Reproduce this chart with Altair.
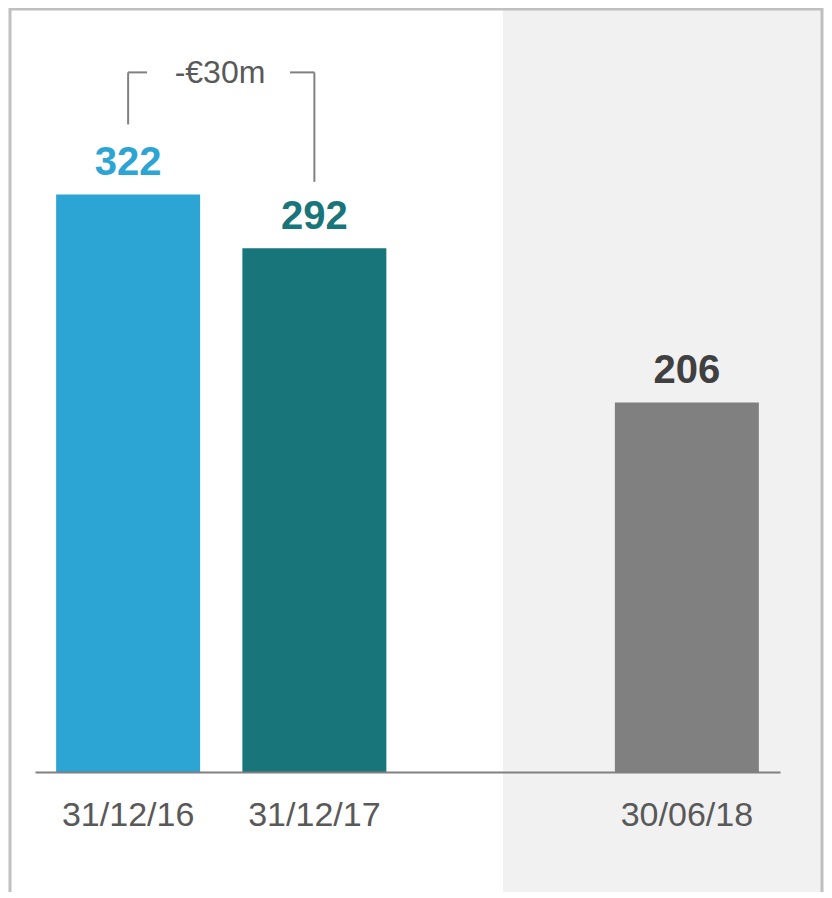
import altair as alt
import pandas as pd

# ---- data ----
bar_cats = ["31/12/16", "31/12/17", "30/06/18"]
bar_values = [322, 292, 206]
axis_domain = ["31/12/16", "31/12/17", " ", "30/06/18"]
bar_colors = ["#2ca5d5", "#187579", "#808080"]
label_colors = ["#2ca5d5", "#187579", "#404040"]

bracket_cats = ["31/12/16", "31/12/17"]
bracket_low = [361, 329]
bracket_top = 390
delta_label = "-€30m"

FONT = "Liberation Sans"

bars_df = pd.DataFrame({"cat": bar_cats, "value": bar_values,
                        "lc": label_colors})
bracket_df = pd.DataFrame({"cat": bracket_cats, "low": bracket_low,
                           "top": [bracket_top] * len(bracket_cats)})
one = pd.DataFrame({"t": [delta_label]})

x_scale = alt.Scale(domain=axis_domain, paddingInner=0.227, paddingOuter=0.1135)
y_scale = alt.Scale(domain=[0, 425.9], nice=False)

x_enc = alt.X("cat:N", scale=x_scale, sort=None,
              axis=alt.Axis(title=None, labelAngle=0, ticks=False, grid=False,
                            labelPadding=53, labelBaseline="alphabetic",
                            labelFontSize=34, labelColor="#595959", labelFont=FONT,
                            domainColor="#808080", domainWidth=2,
                            labelOverlap=False, zindex=1))
y_enc = alt.Y("value:Q", scale=y_scale, axis=None)

bg = alt.Chart(one).mark_rect(color="#f1f1f1").encode(
    x=alt.value(468), x2=alt.value(787), y=alt.value(0), y2=alt.value(900))

bars = alt.Chart(bars_df).mark_bar().encode(
    x=x_enc, y=y_enc,
    color=alt.Color("cat:N", scale=alt.Scale(domain=bar_cats, range=bar_colors), legend=None))

labels = alt.Chart(bars_df).mark_text(
    dy=-19, baseline="alphabetic", fontSize=40, fontWeight="bold", font=FONT
).encode(x=alt.X("cat:N", scale=x_scale, sort=None), y=alt.Y("value:Q", scale=y_scale),
         text=alt.Text("value:Q"), color=alt.Color("lc:N", scale=None))

vrules = alt.Chart(bracket_df).mark_rule(color="#808080", strokeWidth=2).encode(
    x=alt.X("cat:N", scale=x_scale, sort=None),
    y=alt.Y("low:Q", scale=y_scale), y2="top:Q")

hleft = alt.Chart(bracket_df).transform_filter(
    alt.datum.cat == bracket_cats[0]).mark_rule(color="#808080", strokeWidth=2).encode(
    x=alt.X("cat:N", scale=x_scale, sort=None), x2=alt.value(112),
    y=alt.Y("top:Q", scale=y_scale))

hright = alt.Chart(bracket_df).transform_filter(
    alt.datum.cat == bracket_cats[1]).mark_rule(color="#808080", strokeWidth=2).encode(
    x=alt.X("cat:N", scale=x_scale, sort=None), x2=alt.value(255),
    y=alt.Y("top:Q", scale=y_scale))

delta = alt.Chart(one).mark_text(
    fontSize=32, font=FONT, color="#595959", baseline="alphabetic", dy=11
).encode(x=alt.value(185), y=alt.datum(bracket_top), text="t:N")

border = alt.Chart(one).mark_rect(filled=False, stroke="#bfbfbf", strokeWidth=3).encode(
    x=alt.value(-25), x2=alt.value(787), y=alt.value(1), y2=alt.value(920))

chart = alt.layer(bg, bars, labels, vrules, hleft, hright, delta, border).properties(
    width=745, height=764,
    autosize=alt.AutoSizeParams(type="none"),
    padding={"left": 27, "top": 0, "right": 44, "bottom": 120},
    background="white",
).configure_view(strokeWidth=0)

chart.save("out.html", embed_options={"renderer": "svg", "actions": False})
